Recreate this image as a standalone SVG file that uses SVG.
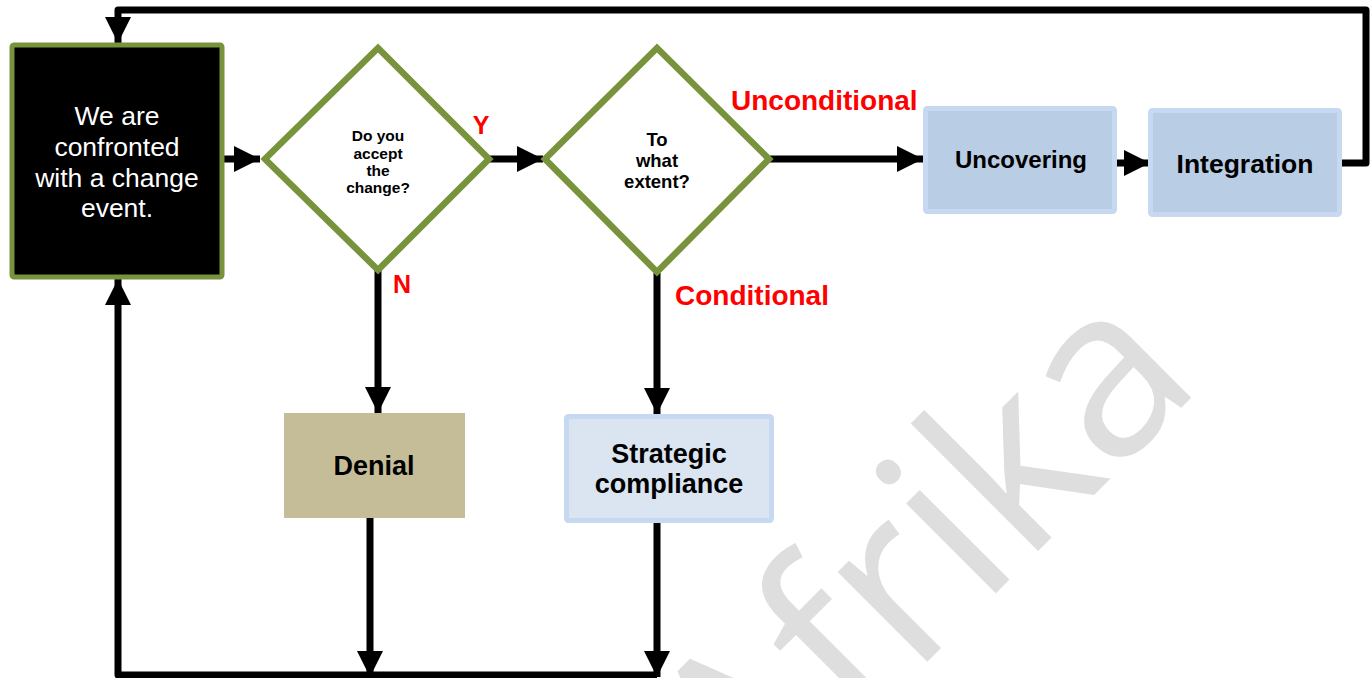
<svg xmlns="http://www.w3.org/2000/svg" width="1371" height="678" viewBox="0 0 1371 678">
  <style>
    .wm { font-family: "Open Sans", "Noto Sans", sans-serif; font-size: 237px; fill: #dedede; }
    .lbl { font-family: "Liberation Sans", Arial, sans-serif; font-weight: bold; fill: #ff0000; }
    .box { font-family: "Liberation Sans", Arial, sans-serif; font-weight: bold; fill: #000; text-anchor: middle; }
    .dec { font-family: "Liberation Sans", Arial, sans-serif; font-weight: bold; fill: #000; text-anchor: middle; }
    .wire { fill: none; stroke: #000; stroke-width: 7; stroke-linejoin: round; }
    .diamond { fill: #fff; stroke: #77933c; stroke-width: 6.5; stroke-linejoin: miter; }
  </style>
  <defs>
    <marker id="arrow" markerUnits="userSpaceOnUse" markerWidth="26" markerHeight="26" viewBox="0 0 24 24" refX="24" refY="12" orient="auto">
      <path d="M0,0 L24,12 L0,24 Z" fill="#000"/>
    </marker>
  </defs>

  <rect width="1371" height="678" fill="#fff"/>

  <!-- background watermark -->
  <text class="wm" transform="translate(1205,384) rotate(-45)" text-anchor="end">Afrika</text>

  <!-- connectors -->
  <g id="connectors">
    <line class="wire" x1="224" y1="159" x2="260" y2="159" marker-end="url(#arrow)"/>
    <line class="wire" x1="486" y1="159" x2="543" y2="159" marker-end="url(#arrow)"/>
    <line class="wire" x1="770" y1="159" x2="923" y2="159" marker-end="url(#arrow)"/>
    <line class="wire" x1="1117" y1="163" x2="1150" y2="163" marker-end="url(#arrow)"/>
    <path class="wire" d="M1332,163 H1366 V10 H118 V43" marker-end="url(#arrow)"/>
    <line class="wire" x1="378" y1="270" x2="378" y2="413" marker-end="url(#arrow)"/>
    <line class="wire" x1="657" y1="273" x2="657" y2="414" marker-end="url(#arrow)"/>
    <line class="wire" x1="370" y1="518" x2="370" y2="677" marker-end="url(#arrow)"/>
    <line class="wire" x1="657" y1="523" x2="657" y2="677" marker-end="url(#arrow)"/>
    <path class="wire" d="M657,675 H118 V279" marker-end="url(#arrow)"/>
  </g>

  <!-- start event -->
  <g id="node-event">
    <rect x="12" y="45" width="210" height="232" rx="2" fill="#000" stroke="#77933c" stroke-width="5"/>
    <g font-family="Liberation Sans, Arial, sans-serif" font-size="26.5" fill="#fff" text-anchor="middle">
      <text x="117" y="125">We are</text>
      <text x="117" y="156">confronted</text>
      <text x="117" y="187">with a change</text>
      <text x="117" y="217">event.</text>
    </g>
  </g>

  <!-- decision: accept -->
  <g id="node-accept">
    <polygon class="diamond" points="378,48 489,159 378,270 265,159"/>
    <text class="dec" x="378" y="141" font-size="15.5">Do you</text>
    <text class="dec" x="378" y="158.5" font-size="15.5">accept</text>
    <text class="dec" x="378" y="176" font-size="15.5">the</text>
    <text class="dec" x="378" y="193" font-size="15.5">change?</text>
  </g>

  <!-- decision: extent -->
  <g id="node-extent">
    <polygon class="diamond" points="657,48 769,159 657,272 545,159"/>
    <text class="dec" x="657" y="146" font-size="18.5">To</text>
    <text class="dec" x="657" y="167" font-size="18.5">what</text>
    <text class="dec" x="657" y="188" font-size="18.5">extent?</text>
  </g>

  <!-- branch labels -->
  <g id="labels">
    <text class="lbl" x="481" y="134" font-size="25" text-anchor="middle">Y</text>
    <text class="lbl" x="402" y="293" font-size="25" text-anchor="middle">N</text>
    <text class="lbl" x="731" y="110" font-size="28">Unconditional</text>
    <text class="lbl" x="675" y="305" font-size="28">Conditional</text>
  </g>

  <!-- outcome nodes -->
  <g id="node-uncovering">
    <rect x="925.5" y="108.5" width="189" height="103" rx="2" fill="#b9cde5" stroke="#c6d9f1" stroke-width="5"/>
    <text class="box" x="1021" y="168" font-size="24">Uncovering</text>
  </g>

  <g id="node-integration">
    <rect x="1150.5" y="110.5" width="189" height="104" rx="2" fill="#b9cde5" stroke="#c6d9f1" stroke-width="5"/>
    <text class="box" x="1245" y="173" font-size="26.5">Integration</text>
  </g>

  <g id="node-denial">
    <rect x="284" y="413" width="181" height="105" fill="#c4bd97"/>
    <text class="box" x="374" y="475" font-size="27">Denial</text>
  </g>

  <g id="node-compliance">
    <rect x="566.5" y="416.5" width="205" height="104" rx="2" fill="#dbe5f1" stroke="#c6d9f1" stroke-width="5"/>
    <text class="box" x="669" y="463" font-size="27">Strategic</text>
    <text class="box" x="669" y="493" font-size="27">compliance</text>
  </g>
</svg>
